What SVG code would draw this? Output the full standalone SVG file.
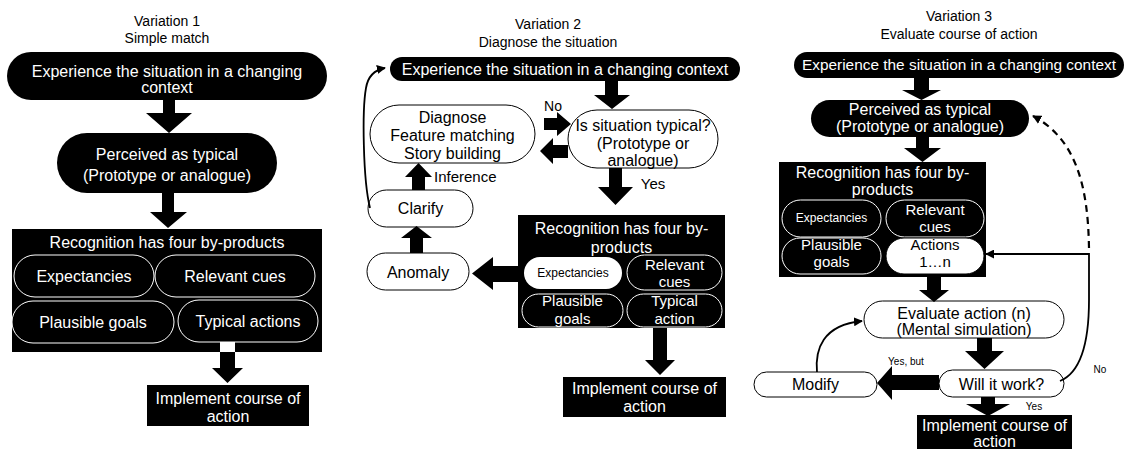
<svg xmlns="http://www.w3.org/2000/svg" width="1129" height="449" viewBox="0 0 1129 449">
<defs>
<style>
text{font-family:"Liberation Sans",Arial,sans-serif;text-anchor:middle}
.title{font-size:14px;fill:#000}
.wt{fill:#fff;font-size:16px}
.bt{fill:#000;font-size:16px}
.sm{font-size:12px}
.m15{font-size:15px}
.lbl{fill:#000;font-size:10px}
.blk{fill:#000}
.wpill{fill:#fff;stroke:#000;stroke-width:1}
.opill{fill:#000;stroke:#fff;stroke-width:1}
.arrow{fill:#000}
.thin{fill:none;stroke:#000;stroke-width:1.8}
.dash{fill:none;stroke:#000;stroke-width:2.2;stroke-dasharray:7 5}
</style>
<marker id="ah" viewBox="0 0 10 10" refX="9" refY="5" markerWidth="9" markerHeight="9" markerUnits="userSpaceOnUse" orient="auto"><path d="M0 0 L10 5 L0 10 z" fill="#000"/></marker>
</defs>
<rect width="1129" height="449" fill="#fff"/>

<!-- Titles -->
<g id="titles">
<text class="title" x="167" y="26">Variation 1</text>
<text class="title" x="167" y="43">Simple match</text>
<text class="title" x="548" y="29">Variation 2</text>
<text class="title" x="548" y="47">Diagnose the situation</text>
<text class="title" x="959" y="21">Variation 3</text>
<text class="title" x="959" y="39">Evaluate course of action</text>
</g>

<!-- Variation 1 -->
<g id="v1-experience">
<rect class="blk" x="7" y="52" width="320" height="48" rx="24"/>
<text class="wt" x="167" y="77">Experience the situation in a changing</text>
<text class="wt" x="167" y="93">context</text>
</g>
<g id="v1-perceived">
<rect class="blk" x="57" y="133" width="220" height="60" rx="30"/>
<text class="wt" x="167" y="160">Perceived as typical</text>
<text class="wt" x="167" y="181">(Prototype or analogue)</text>
</g>
<g id="v1-recognition">
<rect class="blk" x="12" y="229" width="310" height="123"/>
<text class="wt" x="167" y="248">Recognition has four by-products</text>
<rect class="opill" x="14" y="255" width="140" height="42" rx="21"/>
<text class="wt" x="84" y="282">Expectancies</text>
<rect class="opill" x="155" y="255" width="160" height="42" rx="21"/>
<text class="wt" x="235" y="282">Relevant cues</text>
<rect class="opill" x="12" y="301" width="162" height="42" rx="21"/>
<text class="wt" x="93" y="328">Plausible goals</text>
<rect class="opill" x="178" y="300" width="140" height="42" rx="21"/>
<text class="wt" x="248" y="327">Typical actions</text>
<rect fill="#fff" x="220" y="342" width="15" height="10"/>
</g>
<g id="v1-implement">
<rect class="blk" x="147" y="385" width="162" height="41"/>
<text class="wt" x="228" y="404">Implement course of</text>
<text class="wt" x="228" y="422">action</text>
</g>

<!-- Variation 2 -->
<g id="v2-experience">
<rect class="blk" x="390" y="57" width="350" height="24" rx="12"/>
<text class="wt" x="565" y="75">Experience the situation in a changing context</text>
</g>
<g id="v2-diagnose">
<rect class="wpill" x="370" y="105" width="165" height="58" rx="29"/>
<text class="bt" x="452.5" y="123">Diagnose</text>
<text class="bt" x="452.5" y="141">Feature matching</text>
<text class="bt" x="452.5" y="159">Story building</text>
</g>
<g id="v2-typical">
<rect class="wpill" x="568" y="110" width="150" height="58" rx="29"/>
<text class="bt" x="643" y="131">Is situation typical?</text>
<text class="bt" x="643" y="149">(Prototype or</text>
<text class="bt" x="643" y="166">analogue)</text>
</g>
<g id="v2-clarify">
<rect class="wpill" x="368" y="190" width="105" height="37" rx="18.5"/>
<text class="bt" x="420.5" y="214">Clarify</text>
</g>
<g id="v2-anomaly">
<rect class="wpill" x="367" y="253" width="102" height="37" rx="18.5"/>
<text class="bt" x="418" y="278">Anomaly</text>
</g>
<g id="v2-recognition">
<rect class="blk" x="518" y="215" width="207" height="113"/>
<text class="wt" x="621.5" y="234">Recognition has four by-</text>
<text class="wt" x="621.5" y="253">products</text>
<rect fill="#fff" x="524" y="257" width="98" height="32" rx="16"/>
<text class="bt sm" x="573" y="277">Expectancies</text>
<rect class="opill" x="627" y="255" width="95" height="35" rx="17.5"/>
<text class="wt m15" x="674.5" y="270">Relevant</text>
<text class="wt m15" x="674.5" y="287">cues</text>
<rect class="opill" x="522" y="294" width="101" height="33" rx="16.5"/>
<text class="wt m15" x="572.5" y="306">Plausible</text>
<text class="wt m15" x="572.5" y="324">goals</text>
<rect class="opill" x="627" y="294" width="95" height="33" rx="16.5"/>
<text class="wt m15" x="674.5" y="306">Typical</text>
<text class="wt m15" x="674.5" y="324">action</text>
</g>
<g id="v2-implement">
<rect class="blk" x="563" y="377" width="163" height="40"/>
<text class="wt" x="644.5" y="394">Implement course of</text>
<text class="wt" x="644.5" y="412">action</text>
</g>

<!-- Variation 3 -->
<g id="v3-experience">
<rect class="blk" x="794" y="52" width="330" height="26" rx="13"/>
<text class="wt" x="959" y="70" style="font-size:15.4px">Experience the situation in a changing context</text>
</g>
<g id="v3-perceived">
<rect class="blk" x="811" y="100" width="218" height="37" rx="18.5"/>
<text class="wt" x="920" y="115">Perceived as typical</text>
<text class="wt" x="920" y="132">(Prototype or analogue)</text>
</g>
<g id="v3-recognition">
<rect class="blk" x="779" y="162" width="207" height="115"/>
<text class="wt" x="882.5" y="178">Recognition has four by-</text>
<text class="wt" x="882.5" y="195">products</text>
<rect class="opill" x="782" y="200" width="99" height="37" rx="18.5"/>
<text class="wt sm" x="831.5" y="222">Expectancies</text>
<rect class="opill" x="886" y="200" width="98" height="37" rx="18.5"/>
<text class="wt m15" x="935" y="215">Relevant</text>
<text class="wt m15" x="935" y="232">cues</text>
<rect class="opill" x="782" y="238" width="99" height="36" rx="18"/>
<text class="wt m15" x="831.5" y="250">Plausible</text>
<text class="wt m15" x="831.5" y="267">goals</text>
<rect class="wpill" x="886" y="238" width="98" height="36" rx="18"/>
<text class="bt m15" x="935" y="250">Actions</text>
<text class="bt m15" x="935" y="267">1…n</text>
</g>
<g id="v3-evaluate">
<rect class="wpill" x="864" y="301" width="200" height="37" rx="18.5"/>
<text class="bt" x="964" y="319">Evaluate action (n)</text>
<text class="bt" x="964" y="335">(Mental simulation)</text>
</g>
<g id="v3-willwork">
<rect class="wpill" x="939" y="370" width="125" height="27" rx="13.5"/>
<text class="bt" x="1001.5" y="390">Will it work?</text>
</g>
<g id="v3-modify">
<rect class="wpill" x="754" y="372" width="123" height="25" rx="12.5"/>
<text class="bt" x="815.5" y="390">Modify</text>
</g>
<g id="v3-implement">
<rect class="blk" x="917" y="415" width="155" height="34"/>
<text class="wt" x="994.5" y="431">Implement course of</text>
<text class="wt" x="994.5" y="447">action</text>
</g>

<!-- Connectors -->
<g id="connectors">
<polygon class="arrow" points="163,100 175,100 175,113 192,113 169,133 146,113 163,113"/>
<polygon class="arrow" points="162,193 174,193 174,212 187,212 168,228 150,212 162,212"/>
<polygon class="arrow" points="220,352 235,352 235,368 243,368 227.5,383 212,368 220,368"/>

<polygon class="arrow" points="605,81 618,81 618,95 630,95 612,109 594,95 605,95"/>
<polygon class="arrow" points="544,118 557,118 557,112 571,124 557,136 557,130 544,130"/>
<polygon class="arrow" points="568,145 553,145 553,138 540,151 553,164 553,158 568,158"/>
<polygon class="arrow" points="609,168 622,168 622,187 633,187 615.5,205 598,187 609,187"/>
<polygon class="arrow" points="653,328 667,328 667,360 675,360 660,375 645,360 653,360"/>
<polygon class="arrow" points="524,266 493,266 493,257 472,273.5 493,290 493,282 524,282"/>
<polygon class="arrow" points="410,253 423,253 423,238 432,238 416.5,226 401,238 410,238"/>
<polygon class="arrow" points="412,190 425,190 425,177 432,177 418.5,163 405,177 412,177"/>
<path class="thin" d="M370 208 C363 180 362 110 366 88 C368 76 374 70 385 68" marker-end="url(#ah)"/>
<text class="bt" x="553" y="111" style="font-size:14px">No</text>
<text class="bt m15" x="653" y="189">Yes</text>
<text class="bt m15" x="434" y="182" style="text-anchor:start">Inference</text>

<polygon class="arrow" points="914,78 929,78 929,90 941,90 921.5,100 902,90 914,90"/>
<polygon class="arrow" points="916,137 929,137 929,148 941,148 922.5,162 904,148 916,148"/>
<polygon class="arrow" points="927,274 941,274 941,290 949,290 934,302 919,290 927,290"/>
<polygon class="arrow" points="977,338 992,338 992,351 1004,351 984.5,369 965,351 977,351"/>
<polygon class="arrow" points="939,375 892,375 892,366 877,383 892,400 892,390 939,390"/>
<polygon class="arrow" points="981,397 995,397 995,404 1010,404 988,416 966,404 981,404"/>
<path class="thin" d="M1060 381 C1082 372 1089 340 1089 300 L1089 254 L986 254" marker-end="url(#ah)"/>
<path class="dash" d="M1089 248 C1088 190 1078 140 1033 116" marker-end="url(#ah)"/>
<path class="thin" d="M817 372 C815 350 822 325 862 321" marker-end="url(#ah)"/>
<text class="lbl" x="906" y="365">Yes, but</text>
<text class="lbl" x="1100" y="373">No</text>
<text class="lbl" x="1034" y="410">Yes</text>
</g>
</svg>
